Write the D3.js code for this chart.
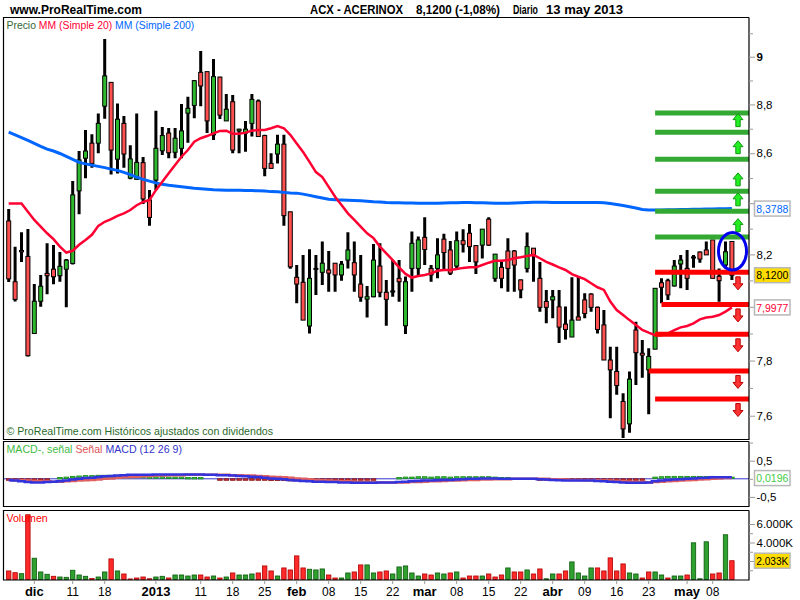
<!DOCTYPE html>
<html><head><meta charset="utf-8">
<script src="https://cdn.jsdelivr.net/npm/d3@7"></script>
<style>body{margin:0;background:#fff}svg{display:block}text{font-family:"Liberation Sans",Arial,sans-serif}</style>
</head><body>
<svg id="c" width="800" height="600"></svg>
<script>
const dates = [
"2012-11-27","2012-11-28","2012-11-29","2012-11-30",
"2012-12-03","2012-12-04","2012-12-05","2012-12-06","2012-12-07","2012-12-10","2012-12-11","2012-12-12","2012-12-13","2012-12-14",
"2012-12-17","2012-12-18","2012-12-19","2012-12-20","2012-12-21","2012-12-24","2012-12-27","2012-12-28","2012-12-31",
"2013-01-02","2013-01-03","2013-01-04","2013-01-07","2013-01-08","2013-01-09","2013-01-10","2013-01-11","2013-01-14","2013-01-15",
"2013-01-16","2013-01-17","2013-01-18","2013-01-21","2013-01-22","2013-01-23","2013-01-24","2013-01-25","2013-01-28","2013-01-29",
"2013-01-30","2013-01-31",
"2013-02-01","2013-02-04","2013-02-05","2013-02-06","2013-02-07","2013-02-08","2013-02-11","2013-02-12","2013-02-13","2013-02-14",
"2013-02-15","2013-02-18","2013-02-19","2013-02-20","2013-02-21","2013-02-22","2013-02-25","2013-02-26","2013-02-27","2013-02-28",
"2013-03-01","2013-03-04","2013-03-05","2013-03-06","2013-03-07","2013-03-08","2013-03-11","2013-03-12","2013-03-13","2013-03-14",
"2013-03-15","2013-03-18","2013-03-19","2013-03-20","2013-03-21","2013-03-22","2013-03-25","2013-03-26","2013-03-27","2013-03-28",
"2013-04-02","2013-04-03","2013-04-04","2013-04-05","2013-04-08","2013-04-09","2013-04-10","2013-04-11","2013-04-12","2013-04-15",
"2013-04-16","2013-04-17","2013-04-18","2013-04-19","2013-04-22","2013-04-23","2013-04-24","2013-04-25","2013-04-26","2013-04-29",
"2013-04-30","2013-05-02","2013-05-03","2013-05-06","2013-05-07","2013-05-08","2013-05-09","2013-05-10","2013-05-13"];

const open = [8.330,8.095,8.215,8.192,7.900,8.021,8.127,8.143,8.118,8.143,
 8.165,8.449,8.580,8.641,8.641,8.793,8.892,8.576,8.722,8.500,
 8.495,8.562,8.413,8.492,8.610,8.682,8.604,8.620,8.764,8.796,
 8.934,8.937,8.675,8.914,8.732,8.811,8.691,8.682,8.722,8.814,
 8.672,8.559,8.597,8.637,8.366,8.112,8.093,7.928,8.146,8.131,
 8.140,8.166,8.121,8.178,8.168,8.086,8.029,8.038,8.155,8.055,
 8.056,8.108,7.929,8.146,8.146,8.266,8.146,8.146,8.259,8.217,
 8.155,8.253,8.282,8.234,8.236,8.337,8.108,8.150,8.213,8.213,
 8.102,8.146,8.224,8.108,8.020,8.026,8.000,7.935,7.887,7.962,
 8.026,8.048,7.998,7.932,7.802,7.760,7.651,7.571,7.913,7.827,
 7.766,7.842,8.091,8.099,8.079,8.163,8.146,8.188,8.209,8.217,
 8.256,8.116,8.159,8.250];
const high = [8.377,8.230,8.286,8.299,8.086,8.121,8.243,8.236,8.209,8.182,
 8.488,8.609,8.695,8.677,8.763,9.075,8.892,8.804,8.752,8.632,
 8.763,8.585,8.452,8.774,8.707,8.703,8.703,8.802,8.832,8.902,
 9.024,8.937,8.990,8.916,8.843,8.839,8.700,8.732,8.843,8.821,
 8.675,8.600,8.675,8.675,8.366,8.159,8.198,8.220,8.198,8.250,
 8.213,8.166,8.174,8.286,8.250,8.198,8.079,8.240,8.243,8.102,
 8.178,8.178,8.115,8.289,8.269,8.345,8.159,8.263,8.280,8.252,
 8.289,8.298,8.318,8.236,8.298,8.345,8.201,8.171,8.263,8.217,
 8.104,8.285,8.224,8.171,8.064,8.064,8.064,8.001,8.112,8.115,
 8.051,8.051,8.001,7.988,7.851,7.851,7.681,7.760,7.944,7.876,
 7.845,8.070,8.108,8.106,8.178,8.198,8.217,8.198,8.211,8.250,
 8.256,8.146,8.250,8.250];
const low = [8.094,8.020,8.171,7.815,7.898,8.000,8.047,8.085,8.095,7.998,
 8.161,8.356,8.499,8.541,8.600,8.741,8.514,8.518,8.541,8.495,
 8.495,8.397,8.311,8.452,8.593,8.580,8.580,8.580,8.643,8.743,
 8.793,8.682,8.654,8.740,8.732,8.600,8.600,8.606,8.668,8.666,
 8.507,8.539,8.559,8.311,8.145,8.013,7.950,7.900,8.045,8.083,
 8.057,8.057,8.099,8.146,8.057,8.019,7.960,8.036,8.036,7.929,
 8.038,8.019,7.898,8.057,8.121,8.159,8.095,8.108,8.140,8.121,
 8.146,8.207,8.171,8.125,8.184,8.232,8.095,8.070,8.057,8.057,
 8.032,8.130,8.095,7.981,7.938,7.957,7.865,7.878,7.887,7.950,
 7.957,7.981,7.900,7.802,7.591,7.675,7.521,7.539,7.711,7.737,
 7.605,7.842,8.013,8.026,8.077,8.070,8.064,8.149,8.168,8.198,
 8.108,8.019,8.146,8.102];
const close = [8.106,8.028,8.210,7.818,8.021,8.078,8.118,8.114,8.154,8.178,
 8.433,8.573,8.609,8.559,8.722,8.919,8.613,8.739,8.597,8.577,
 8.563,8.417,8.344,8.620,8.672,8.602,8.661,8.691,8.784,8.899,
 8.877,8.732,8.916,8.756,8.780,8.613,8.698,8.698,8.821,8.668,
 8.539,8.539,8.637,8.351,8.152,8.086,7.950,8.108,8.144,8.166,
 8.128,8.121,8.162,8.217,8.121,8.036,8.038,8.178,8.055,8.028,
 8.060,8.095,8.095,8.243,8.256,8.219,8.121,8.198,8.207,8.128,
 8.253,8.239,8.230,8.171,8.298,8.236,8.201,8.108,8.146,8.159,
 8.064,8.230,8.198,7.998,7.998,8.038,7.924,7.915,7.950,7.950,
 7.975,7.998,7.915,7.802,7.766,7.709,7.553,7.732,7.829,7.820,
 7.815,8.070,8.074,8.045,8.155,8.178,8.108,8.190,8.182,8.198,
 8.108,8.099,8.210,8.120];

const ma20 = [8.399,8.399,8.399,8.366,8.334,8.308,8.282,8.259,8.230,8.207,
 8.214,8.237,8.256,8.276,8.311,8.327,8.337,8.350,8.360,8.373,
 8.392,8.405,8.413,8.452,8.485,8.519,8.553,8.586,8.613,8.647,
 8.661,8.670,8.681,8.691,8.692,8.679,8.679,8.684,8.692,8.695,
 8.695,8.702,8.711,8.702,8.675,8.640,8.605,8.565,8.524,8.504,
 8.465,8.426,8.393,8.360,8.334,8.308,8.282,8.263,8.230,8.204,
 8.178,8.150,8.125,8.111,8.117,8.121,8.127,8.137,8.140,8.140,
 8.144,8.148,8.150,8.150,8.159,8.168,8.175,8.175,8.178,8.185,
 8.189,8.194,8.198,8.185,8.171,8.161,8.150,8.140,8.124,8.114,
 8.105,8.089,8.074,8.064,8.020,7.988,7.969,7.950,7.932,7.913,
 7.903,7.894,7.894,7.901,7.913,7.923,7.928,7.938,7.953,7.960,
 7.963,7.969,7.982,7.9977];
const ma200 = [8.686,8.675,8.664,8.652,8.640,8.628,8.617,8.609,8.599,8.587,
 8.575,8.563,8.557,8.552,8.547,8.542,8.536,8.531,8.523,8.514,
 8.504,8.495,8.488,8.481,8.475,8.471,8.468,8.465,8.462,8.459,
 8.457,8.455,8.453,8.452,8.451,8.451,8.451,8.450,8.450,8.449,
 8.448,8.446,8.445,8.443,8.441,8.440,8.436,8.431,8.426,8.421,
 8.416,8.414,8.413,8.412,8.411,8.410,8.408,8.406,8.405,8.403,
 8.402,8.402,8.401,8.401,8.400,8.400,8.400,8.400,8.401,8.402,
 8.402,8.403,8.403,8.402,8.402,8.401,8.400,8.400,8.400,8.401,
 8.402,8.403,8.404,8.404,8.404,8.403,8.403,8.403,8.403,8.403,
 8.403,8.403,8.403,8.402,8.399,8.395,8.391,8.386,8.381,8.375,
 8.373,8.373,8.373,8.374,8.374,8.375,8.375,8.376,8.376,8.377,
 8.377,8.378,8.378,8.3788];

const volume = [924,739,630,7000,2304,815,565,348,272,239,
 1000,489,348,100,272,815,2228,924,598,60,
 163,272,80,272,348,163,489,489,380,489,
 489,272,380,163,272,707,489,489,598,707,
 1467,924,380,1250,1033,2554,1250,1109,1033,1141,
 489,163,163,707,815,1576,1576,707,815,924,
 598,1359,1467,707,380,598,489,707,598,707,
 815,163,380,380,380,598,272,489,1250,815,
 815,1033,598,1141,80,598,598,924,1902,707,
 380,1250,1250,924,2337,924,1685,707,598,163,
 815,815,489,163,380,380,489,3967,80,4076,
 598,707,4837,2033];
const volDir = [-1,-1,1,-1,1,1,1,-1,1,1,
 1,1,1,-1,1,1,-1,1,-1,-1,
 -1,-1,-1,1,1,-1,1,1,1,1,
 -1,-1,1,-1,1,-1,1,1,1,-1,
 -1,-1,1,-1,-1,-1,-1,1,1,1,
 -1,-1,1,1,-1,-1,1,1,-1,-1,
 1,1,1,1,1,-1,-1,1,1,-1,
 1,-1,-1,-1,1,-1,-1,-1,1,-1,
 -1,1,-1,-1,1,1,-1,-1,1,1,
 1,1,-1,-1,-1,-1,-1,1,1,-1,
 -1,1,1,-1,1,1,-1,1,1,1,
 -1,-1,1,-1];

const macd = [-0.04,-0.05,-0.07,-0.09,-0.10,-0.10,-0.09,-0.08,-0.07,-0.05,
 -0.02,0.00,0.02,0.03,0.05,0.07,0.08,0.09,0.10,0.11,
 0.11,0.11,0.11,0.12,0.12,0.12,0.12,0.12,0.12,0.12,
 0.12,0.11,0.11,0.10,0.10,0.09,0.08,0.07,0.06,0.05,
 0.03,0.01,0.00,-0.01,-0.03,-0.05,-0.06,-0.07,-0.08,-0.08,
 -0.09,-0.09,-0.10,-0.10,-0.11,-0.11,-0.11,-0.11,-0.10,-0.10,
 -0.10,-0.09,-0.08,-0.07,-0.06,-0.05,-0.05,-0.04,-0.03,-0.03,
 -0.02,-0.01,0.00,0.00,0.01,0.01,0.01,0.00,0.00,0.00,
 0.00,0.00,0.00,-0.01,-0.02,-0.03,-0.04,-0.05,-0.05,-0.05,
 -0.05,-0.05,-0.06,-0.07,-0.08,-0.09,-0.10,-0.11,-0.11,-0.11,
 -0.10,-0.07,-0.05,-0.03,-0.02,-0.01,0.00,0.01,0.02,0.03,
 0.04,0.04,0.04,0.045];
const signal = [-0.03,-0.04,-0.04,-0.05,-0.06,-0.07,-0.07,-0.08,-0.08,-0.07,
 -0.06,-0.05,-0.04,-0.03,-0.02,0.00,0.01,0.03,0.04,0.05,
 0.06,0.07,0.08,0.09,0.09,0.10,0.10,0.10,0.11,0.11,
 0.11,0.11,0.11,0.11,0.11,0.10,0.10,0.09,0.09,0.08,
 0.07,0.06,0.05,0.04,0.03,0.01,0.00,-0.01,-0.03,-0.04,
 -0.05,-0.06,-0.07,-0.07,-0.08,-0.09,-0.09,-0.10,-0.10,-0.10,
 -0.10,-0.10,-0.10,-0.09,-0.09,-0.08,-0.07,-0.07,-0.06,-0.05,
 -0.05,-0.04,-0.03,-0.03,-0.02,-0.02,-0.01,-0.01,-0.01,0.00,
 0.00,0.00,0.00,0.00,0.00,-0.01,-0.01,-0.02,-0.03,-0.03,
 -0.04,-0.04,-0.04,-0.05,-0.05,-0.06,-0.07,-0.08,-0.09,-0.09,
 -0.10,-0.09,-0.08,-0.07,-0.06,-0.05,-0.04,-0.03,-0.02,-0.01,
 0.00,0.01,0.02,0.025];
const hist = [-0.01,-0.01,-0.03,-0.04,-0.04,-0.03,-0.02,0.00,0.01,0.02,
 0.04,0.05,0.06,0.06,0.07,0.07,0.07,0.06,0.06,0.06,
 0.05,0.04,0.03,0.03,0.03,0.02,0.02,0.02,0.01,0.01,
 0.01,0.00,0.00,-0.01,-0.01,-0.01,-0.02,-0.02,-0.03,-0.03,
 -0.04,-0.05,-0.05,-0.05,-0.06,-0.06,-0.06,-0.06,-0.05,-0.04,
 -0.04,-0.03,-0.03,-0.03,-0.03,-0.02,-0.02,-0.01,0.00,0.00,
 0.00,0.01,0.02,0.02,0.03,0.03,0.02,0.03,0.03,0.02,
 0.03,0.03,0.03,0.03,0.03,0.03,0.02,0.01,0.01,0.00,
 0.00,0.00,0.00,-0.01,-0.02,-0.02,-0.03,-0.03,-0.02,-0.02,
 -0.01,-0.01,-0.02,-0.02,-0.03,-0.03,-0.03,-0.03,-0.02,-0.02,
 0.00,0.02,0.03,0.04,0.04,0.04,0.04,0.04,0.04,0.04,
 0.04,0.03,0.02,0.0196];

const resistanceLevels = [8.765,8.686,8.576,8.447,8.368,8.267];
const resistanceStart = ["2013-04-24","2013-04-24","2013-04-24","2013-04-24","2013-04-24","2013-04-24"];
const supportLevels = [8.131,8.009,7.897,7.762,7.660];
const supportStart = ["2013-04-24","2013-04-25","2013-04-24","2013-04-23","2013-04-24"];
const circleRange = [8.140, 8.285];

const priceMajor = [9,8.8,8.6,8.4,8.2,8,7.8,7.6];
const priceMinor = [9.1,8.9,8.7,8.5,8.3,8.1,7.9,7.7];
const macdMajor = [0.5,-0.5];
const macdMinor = [1,0];
const volMajor = [6000,4000,2000];
const volMinor = [5000,3000,1000];
const tickDates = ["2012-12-03","2012-12-11","2012-12-18","2013-01-02","2013-01-11","2013-01-18","2013-01-25","2013-02-01",
 "2013-02-08","2013-02-15","2013-02-22","2013-03-01","2013-03-08","2013-03-15","2013-03-22","2013-04-02","2013-04-09",
 "2013-04-16","2013-04-23","2013-05-02","2013-05-08"];
const tickLabels = ["dic","11","18","2013","11","18","25","feb","08","15","22","mar","08","15","22","abr","09","16","23","may","08"];
const headerTexts = ["ACX - ACERINOX","8,1200 (-1,08%)","Diario","13 may 2013"];

// ---------- layout ----------
const svg = d3.select("#c");
const L = 3, R = 749;
const mainTop = 17.5, mainBot = 439.5, macdTop = 441.5, macdBot = 506.5, volTop = 510.5, volBot = 580;
const FONT = '"Liberation Sans",Arial,sans-serif';
const GREEN = "#2eb82e", RED = "#ff4f4f";

const x = d3.scaleBand().domain(dates).range([5.5, 735.1]).paddingInner(0.22).paddingOuter(0.11);
const cx = d => x(d) + x.bandwidth() / 2;
const y = d3.scaleLog().domain([7.5171, 9.17]).range([439, 17]);
const ym = d3.scaleLinear().domain([-0.765, 1.03]).range([506.5, 441.5]);
const yv = d3.scaleLinear().domain([0, 6000]).range([579.5, 524]);
const idx = d3.range(dates.length);
const comma = v => String(v).replace(".", ",");

svg.append("rect").attr("width", 800).attr("height", 600).attr("fill", "#fff");

// header
svg.append("text").attr("x", 10).attr("y", 14).attr("font-size", 12).attr("font-weight", "bold").text("www.ProRealTime.com");
const hdrPos = [[310, 93], [416, 84], [513, 25], [546, 77]];
svg.selectAll("text.hdr").data(headerTexts).join("text").attr("class", "hdr")
  .attr("x", (d, k) => hdrPos[k][0]).attr("y", 14)
  .attr("textLength", (d, k) => hdrPos[k][1]).attr("lengthAdjust", "spacingAndGlyphs")
  .attr("font-size", 12).attr("font-weight", "bold").text(d => d);

// clips
const defs = svg.append("defs");
defs.append("clipPath").attr("id", "cm").append("rect").attr("x", L).attr("y", mainTop).attr("width", R - L).attr("height", mainBot - mainTop);
defs.append("clipPath").attr("id", "cd").append("rect").attr("x", L).attr("y", macdTop).attr("width", R - L).attr("height", macdBot - macdTop);

// ---------- main panel ----------
const gm = svg.append("g").attr("clip-path", "url(#cm)");
gm.selectAll("line.wick").data(idx).join("line").attr("class", "wick")
  .attr("x1", i => cx(dates[i])).attr("x2", i => cx(dates[i]))
  .attr("y1", i => y(high[i])).attr("y2", i => y(low[i]))
  .attr("stroke", "#000").attr("stroke-width", 3);
gm.selectAll("rect.body").data(idx).join("rect").attr("class", "body")
  .attr("x", i => cx(dates[i]) - 2).attr("width", 4)
  .attr("y", i => y(Math.max(open[i], close[i])))
  .attr("height", i => Math.max(1, Math.abs(y(open[i]) - y(close[i]))))
  .attr("fill", i => close[i] >= open[i] ? GREEN : RED)
  .attr("stroke", "#000").attr("stroke-width", 1);

gm.append("path").datum(idx).attr("fill", "none").attr("stroke", "#0066ff").attr("stroke-width", 3)
  .attr("d", d3.line().x(i => cx(dates[i])).y(i => y(ma200[i])));
gm.append("path").datum(idx).attr("fill", "none").attr("stroke", "#ff0033").attr("stroke-width", 2.5)
  .attr("d", d3.line().x(i => cx(dates[i])).y(i => y(ma20[i])));

// drawn horizontal levels
gm.selectAll("line.res").data(resistanceLevels).join("line").attr("class", "res")
  .attr("x1", (d, k) => cx(resistanceStart[k])).attr("x2", R)
  .attr("y1", d => y(d)).attr("y2", d => y(d)).attr("stroke", "#33a833").attr("stroke-width", 5);
gm.selectAll("line.sup").data(supportLevels).join("line").attr("class", "sup")
  .attr("x1", (d, k) => cx(supportStart[k])).attr("x2", R)
  .attr("y1", d => y(d)).attr("y2", d => y(d)).attr("stroke", "#ff0000").attr("stroke-width", 5);

function arrow(xc, yc, up) {
  const s = up ? 1 : -1;
  return `M${xc},${yc - 6.5 * s}L${xc + 5},${yc - 0.5 * s}L${xc + 2.2},${yc - 0.5 * s}L${xc + 2.2},${yc + 6.5 * s}` +
    `L${xc - 2.2},${yc + 6.5 * s}L${xc - 2.2},${yc - 0.5 * s}L${xc - 5},${yc - 0.5 * s}Z`;
}
const ax0 = R - 11;
gm.selectAll("path.up").data(resistanceLevels.slice(1)).join("path").attr("class", "up")
  .attr("d", d => arrow(ax0, y(d) - 12, true)).attr("fill", "#22ee22").attr("stroke", "#119911").attr("stroke-width", 1);
gm.selectAll("path.dn").data(supportLevels).join("path").attr("class", "dn")
  .attr("d", d => arrow(ax0, y(d) + 11, false)).attr("fill", "#ff3333").attr("stroke", "#bb0000").attr("stroke-width", 1);

const last = dates[dates.length - 1];
gm.append("ellipse").attr("cx", cx(last) + 0.6).attr("cy", (y(circleRange[0]) + y(circleRange[1])) / 2)
  .attr("rx", 14).attr("ry", (y(circleRange[0]) - y(circleRange[1])) / 2)
  .attr("fill", "none").attr("stroke", "#0000ee").attr("stroke-width", 3);

// legends
const leg = svg.append("text").attr("x", 6.5).attr("y", 29).attr("font-size", 10.4);
leg.append("tspan").attr("fill", "#336633").text("Precio ");
leg.append("tspan").attr("fill", "#ff0033").text("MM (Simple 20) ");
leg.append("tspan").attr("fill", "#0066ff").text("MM (Simple 200)");
svg.append("text").attr("x", 6.5).attr("y", 435).attr("font-size", 10.6).attr("fill", "#2a6a2a")
  .text("© ProRealTime.com  Históricos ajustados con dividendos");

// ---------- MACD panel ----------
const gd = svg.append("g").attr("clip-path", "url(#cd)");
gd.append("line").attr("x1", L).attr("x2", R).attr("y1", ym(0)).attr("y2", ym(0)).attr("stroke", "#3333cc").attr("stroke-width", 1);
gd.selectAll("rect.h").data(idx).join("rect").attr("class", "h")
  .attr("x", i => cx(dates[i]) - 2.3).attr("width", 4.6)
  .attr("y", i => Math.min(ym(hist[i]), ym(0)) - (hist[i] > 0 ? 1 : 0))
  .attr("height", i => Math.max(1.5, Math.abs(ym(hist[i]) - ym(0))))
  .attr("fill", i => hist[i] >= 0 ? "#44cc44" : "#cc3333")
  .attr("stroke", i => hist[i] >= 0 ? "#118811" : "#881111").attr("stroke-width", 0.8)
  .attr("opacity", i => hist[i] === 0 ? 0 : 1);
gd.append("path").datum(idx).attr("fill", "none").attr("stroke", "#e06060").attr("stroke-width", 2.5)
  .attr("d", d3.line().x(i => cx(dates[i])).y(i => ym(signal[i])).curve(d3.curveStep));
gd.append("path").datum(idx).attr("fill", "none").attr("stroke", "#3333dd").attr("stroke-width", 2.5)
  .attr("d", d3.line().x(i => cx(dates[i])).y(i => ym(macd[i])).curve(d3.curveStep));
const leg2 = svg.append("text").attr("x", 6.5).attr("y", 453).attr("font-size", 10.6);
leg2.append("tspan").attr("fill", "#44bb44").text("MACD-, señal ");
leg2.append("tspan").attr("fill", "#dd5555").text("Señal ");
leg2.append("tspan").attr("fill", "#3333cc").text("MACD (12 26 9)");

// ---------- Volume panel ----------
svg.append("g").selectAll("rect").data(idx).join("rect")
  .attr("x", i => cx(dates[i]) - 2.2).attr("width", 4.4)
  .attr("y", i => yv(volume[i])).attr("height", i => yv(0) - yv(volume[i]))
  .attr("fill", i => volDir[i] > 0 ? "#2f9f2f" : "#ff2a2a")
  .attr("stroke", i => volDir[i] > 0 ? "#0a5a0a" : "#b00000").attr("stroke-width", 0.8);
svg.append("text").attr("x", 6.5).attr("y", 522).attr("font-size", 10.6).attr("fill", "#ff0000").text("Volumen");

// ---------- frames ----------
[[mainTop, mainBot], [macdTop, macdBot], [volTop, volBot]].forEach(([t, b]) => {
  svg.append("path").attr("d", `M${R},${t}H${L + 0.5}V${b}H${R}V${t}`).attr("fill", "none")
    .attr("stroke", "#000").attr("stroke-width", 1.2);
});

// ---------- value boxes & right axes ----------
const f4 = v => d3.format(".4f")(v).replace(".", ",");
const vfmt = d => d3.format(",")(d).replace(",", ".") + "K";
const n = dates.length - 1;
const priceBoxes = [y(ma200[n]), y(close[n]), y(ma20[n])];
const macdBoxes = [ym(hist[n])];
const volBoxes = [yv(volume[n])];

function rAxis(scale, major, minor, fmt, boldFn, boxes) {
  const g = svg.append("g").attr("transform", `translate(${R},0)`)
    .call(d3.axisRight(scale).tickValues(major).tickSize(6).tickPadding(1.5)
      .tickFormat(d => boxes.some(b => Math.abs(b - scale(d)) < 12) ? "" : fmt(d)));
  g.select(".domain").remove();
  g.selectAll("line").attr("stroke", "#999");
  g.selectAll("text").attr("font-family", FONT).attr("font-size", 11.5).attr("fill", "#000")
    .attr("font-weight", d => boldFn && boldFn(d) ? "bold" : "normal");
  const g2 = svg.append("g").attr("transform", `translate(${R},0)`)
    .call(d3.axisRight(scale).tickValues(minor).tickSize(4).tickFormat(""));
  g2.select(".domain").remove();
  g2.selectAll("line").attr("stroke", "#999");
}
rAxis(y, priceMajor, priceMinor, d => comma(d), d => Number.isInteger(d), priceBoxes);
rAxis(ym, macdMajor, macdMinor, d => comma(d), null, macdBoxes);
rAxis(yv, volMajor, volMinor, vfmt, null, volBoxes);

function box(yc, txt, color, fill) {
  svg.append("rect").attr("x", 754.5).attr("y", yc - 7.5).attr("width", 35.5).attr("height", 15)
    .attr("fill", fill).attr("stroke", "#b8b8b8").attr("stroke-width", 1.5);
  svg.append("text").attr("x", 756.3).attr("y", yc + 4.2).attr("font-size", 10.5).attr("fill", color)
    .attr("textLength", 32).attr("lengthAdjust", "spacingAndGlyphs").text(txt);
}
box(priceBoxes[0], f4(ma200[n]), "#0066ff", "#fff");
box(priceBoxes[1], f4(close[n]), "#000", "#ffdd00");
box(priceBoxes[2], f4(ma20[n]), "#ff0033", "#fff");
box(macdBoxes[0], f4(hist[n]), "#44cc44", "#fff");
box(volBoxes[0], vfmt(volume[n]), "#000", "#ffdd00");

// ---------- x axis ----------
const gx = svg.append("g");
gx.selectAll("line").data(tickDates).join("line")
  .attr("x1", d => cx(d)).attr("x2", d => cx(d)).attr("y1", 580.5).attr("y2", 584).attr("stroke", "#999");
gx.selectAll("text").data(tickDates).join("text")
  .attr("x", d => cx(d)).attr("y", 596).attr("text-anchor", "middle")
  .attr("font-size", (d, k) => /^\d\d$/.test(tickLabels[k]) ? 12 : 13)
  .attr("font-weight", (d, k) => /^\d\d$/.test(tickLabels[k]) ? "normal" : "bold")
  .text((d, k) => tickLabels[k]);
</script>
</body></html>
